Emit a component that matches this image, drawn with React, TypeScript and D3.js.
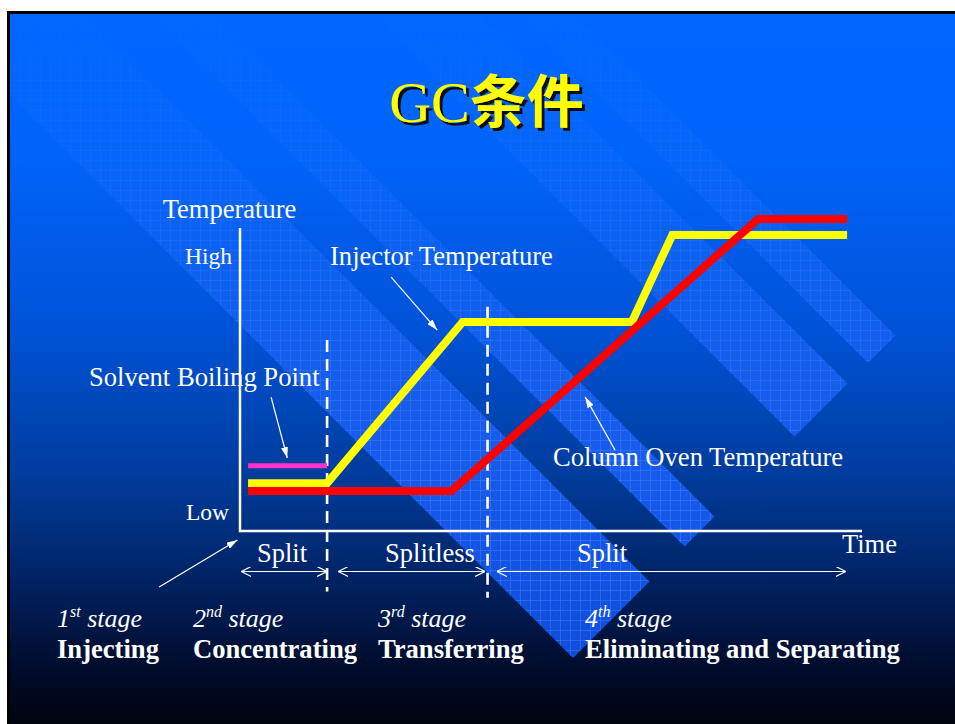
import React from 'react';
import * as d3 from 'd3';

// time runs 0..100 along the axis, temperature 0 (low) .. 100 (high)
const injectorTime = [1.3, 14, 35.8, 63, 69.5, 97.6];
const injectorTemp = [15.8, 15.8, 69, 69, 97.7, 97.7];
const ovenTime = [1.3, 34, 83.3, 97.6];
const ovenTemp = [13.2, 13.2, 103, 103];
const boilingTime = [1.3, 14];
const boilingTemp = [21.5, 21.5];

const tempTickLabels = ['Low', 'High'];
const tempTickValues = [3.6, 88];

const dividerTime = [14, 39.8];
const dividerFrom = [63, 74];
const dividerTo = [-20, -22];

const modeLabels = ['Split', 'Splitless', 'Split'];
const modeFrom = [0.2, 15.8, 41.3];
const modeTo = [14, 39.4, 97.4];

const stageNums = ['1', '2', '3', '4'];
const stageSuffix = ['st', 'nd', 'rd', 'th'];
const stageNames = ['Injecting', 'Concentrating', 'Transferring', 'Eliminating and Separating'];

const noteLabels = ['Injector Temperature', 'Solvent Boiling Point', 'Column Oven Temperature'];
// arrow tail / head in chart units [time, temp]
const noteTail = [[24.3, 83.8], [5, 44.2], [60.3, 26.7]];
const noteHead = [[31.7, 66.3], [7.6, 24.1], [55.5, 44.2]];

// layout
const W = 955;
const H = 724;
const serif = "'Liberation Serif', 'Times New Roman', serif";
const modeLabelX = [282, 430, 602];
const stageX = [57, 193, 378, 585];
const noteX = [330, 89, 553];
const noteY = [265, 386, 466];
const tickGap = [11, 8];
const bandEdges = [[-85, 68], [138, 198], [358, 464], [505, 560]];

const bandPath = ([c1, c2]: number[]) => {
  const E = 1231;
  const S = -400;
  const p = (c: number, s: number) => [(s + c) / 2, (s - c) / 2];
  const pts = [p(c1, S), p(c1, E), p(c2, E), p(c2, S)];
  return 'M' + pts.map((q) => q.join(',')).join('L') + 'Z';
};

export default function App() {
  const x = d3.scaleLinear().domain([0, 100]).range([240, 862]);
  const y = d3.scaleLinear().domain([0, 100]).range([531, 228]);

  const line = d3
    .line<[number, number]>()
    .x((d) => x(d[0]))
    .y((d) => y(d[1]));

  const injector = injectorTime.map((t, i) => [t, injectorTemp[i]] as [number, number]);
  const oven = ovenTime.map((t, i) => [t, ovenTemp[i]] as [number, number]);
  const boiling = boilingTime.map((t, i) => [t, boilingTemp[i]] as [number, number]);

  return (
    <svg width={W} height={H} style={{ position: 'absolute', left: 0, top: 0, background: '#fff' }}>
      <defs>
        <linearGradient id="bg" x1="0" y1="14" x2="0" y2="724" gradientUnits="userSpaceOnUse">
          <stop offset="0" stopColor="#0066ff" />
          <stop offset="0.2" stopColor="#0064fb" />
          <stop offset="0.45" stopColor="#0052d6" />
          <stop offset="0.65" stopColor="#003c9c" />
          <stop offset="0.8" stopColor="#002262" />
          <stop offset="0.92" stopColor="#000c2c" />
          <stop offset="1" stopColor="#00040e" />
        </linearGradient>
        <linearGradient id="band" x1="0" y1="60" x2="0" y2="680" gradientUnits="userSpaceOnUse">
          <stop offset="0" stopColor="#0a6cff" />
          <stop offset="0.5" stopColor="#1a62f5" />
          <stop offset="1" stopColor="#0f4ad8" />
        </linearGradient>
        <linearGradient id="fadeGrad" x1="0" y1="40" x2="0" y2="460" gradientUnits="userSpaceOnUse">
          <stop offset="0" stopColor="#fff" stopOpacity="0.12" />
          <stop offset="0.55" stopColor="#fff" stopOpacity="0.6" />
          <stop offset="1" stopColor="#fff" stopOpacity="1" />
        </linearGradient>
        <mask id="fade" maskUnits="userSpaceOnUse" x="0" y="0" width={W} height={H}>
          <rect x="0" y="0" width={W} height={H} fill="url(#fadeGrad)" />
        </mask>
        <pattern id="grid" width="10" height="10" patternUnits="userSpaceOnUse">
          <path d="M0,0.5H10M0.5,0V10" stroke="#4a8aff" strokeOpacity="0.4" fill="none" strokeWidth="1" />
          <rect x="5" y="5" width="1" height="1" fill="#4a8aff" fillOpacity="0.3" />
        </pattern>
        <clipPath id="slide">
          <rect x="10" y="14" width={W} height={H} />
        </clipPath>
        <filter id="shadow" x="-10%" y="-10%" width="130%" height="140%">
          <feDropShadow dx="3" dy="3" stdDeviation="0.4" floodColor="#111" floodOpacity="1" />
        </filter>
        <marker id="open" viewBox="0 0 10 10" refX="10" refY="5" markerWidth="10" markerHeight="10"
          markerUnits="userSpaceOnUse" orient="auto-start-reverse">
          <path d="M0,0L10,5L0,10" fill="none" stroke="#fff" strokeWidth="1.2" />
        </marker>
        <marker id="solid" viewBox="0 0 11 7" refX="11" refY="3.5" markerWidth="11" markerHeight="7"
          markerUnits="userSpaceOnUse" orient="auto">
          <path d="M0,0L11,3.5L0,7Z" fill="#fff" />
        </marker>
      </defs>

      {/* slide background */}
      <rect x="7" y="11" width={W} height={H} fill="#000" />
      <rect x="10" y="14" width={W} height={H} fill="url(#bg)" />
      <g clipPath="url(#slide)">
        <g mask="url(#fade)">
          {bandEdges.map((b, i) => (
            <g key={i}>
              <path d={bandPath(b)} fill="url(#band)" />
              <path d={bandPath(b)} fill="url(#grid)" />
            </g>
          ))}
        </g>
      </g>

      {/* title */}
      <text x={486.5} y={122} fontSize="58" textAnchor="middle" fill="#ffff00" filter="url(#shadow)">
        <tspan fontFamily={serif}>GC</tspan>
        <tspan fontFamily="'Noto Sans CJK SC'" fontWeight="700" fontSize="57">条件</tspan>
      </text>

      {/* axes */}
      <g fontFamily={serif} fill="#fff">
        <text x={229.5} y={218} fontSize="26.5" textAnchor="middle">Temperature</text>
        <text x={842} y={553} fontSize="26.5">Time</text>
        {tempTickLabels.map((l, i) => (
          <text key={l} x={x(0) - tickGap[i]} y={y(tempTickValues[i])} fontSize="23.5" textAnchor="end">{l}</text>
        ))}
      </g>

      {/* annotations */}
      <g fontFamily={serif} fill="#fff" fontSize="26.6">
        {noteLabels.map((l, i) => (
          <g key={l}>
            <text x={noteX[i]} y={noteY[i]}>{l}</text>
            <line x1={x(noteTail[i][0])} y1={y(noteTail[i][1])} x2={x(noteHead[i][0])} y2={y(noteHead[i][1])}
              stroke="#fff" strokeWidth="1.2" markerEnd="url(#solid)" />
          </g>
        ))}
        <line x1={x(-13)} y1={y(-18.5)} x2={x(-0.4)} y2={y(-3)} stroke="#fff" strokeWidth="1.2" markerEnd="url(#solid)" />
      </g>

      <path d={`M${x(0)},${y.range()[1]}V${y(0)}H${x(100)}`} fill="none" stroke="#fff" strokeWidth="2.5" />

      {/* stage dividers */}
      {dividerTime.map((t, i) => (
        <line key={i} x1={x(t)} x2={x(t)} y1={y(dividerFrom[i])} y2={y(dividerTo[i])}
          stroke="#fff" strokeWidth="2.6" strokeDasharray="12,7" />
      ))}

      {/* temperature programs */}
      <path d={line(boiling) || ''} fill="none" stroke="#ff33cc" strokeWidth="5" />
      <path d={line(injector) || ''} fill="none" stroke="#ffff00" strokeWidth="8" strokeLinejoin="miter" />
      <path d={line(oven) || ''} fill="none" stroke="#ff0000" strokeWidth="8" strokeLinejoin="miter" />

      {/* split / splitless spans */}
      <g fontFamily={serif} fill="#fff" fontSize="26.5" textAnchor="middle">
        {modeLabels.map((l, i) => (
          <g key={i}>
            <line x1={x(modeFrom[i])} x2={x(modeTo[i])} y1={571.5} y2={571.5} stroke="#fff" strokeWidth="1.2"
              markerStart="url(#open)" markerEnd="url(#open)" />
            <text x={modeLabelX[i]} y={562}>{l}</text>
          </g>
        ))}
      </g>

      {/* stages */}
      <g fontFamily={serif} fill="#fff">
        {stageNames.map((n, i) => (
          <g key={n}>
            <text x={stageX[i]} y={627} fontSize="26" fontStyle="italic">
              {stageNums[i]}
              <tspan fontSize="16" dy="-10">{stageSuffix[i]}</tspan>
              <tspan dy="10"> stage</tspan>
            </text>
            <text x={stageX[i]} y={658} fontSize="26.6" fontWeight="700">{n}</text>
          </g>
        ))}
      </g>
    </svg>
  );
}
